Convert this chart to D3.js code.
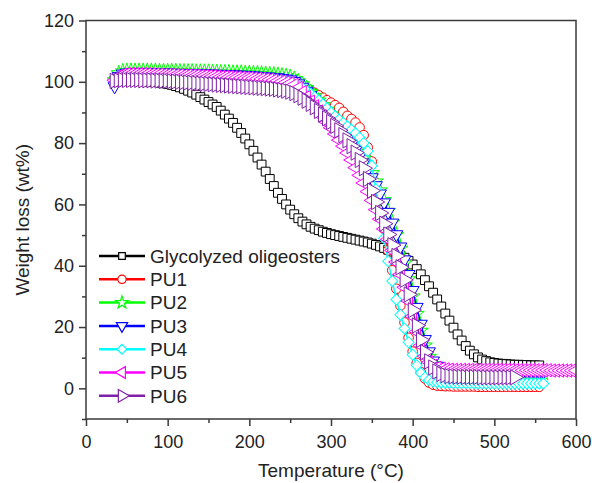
<!DOCTYPE html>
<html><head><meta charset="utf-8">
<script src="https://cdn.jsdelivr.net/npm/d3@7"></script>
<style>body{margin:0;background:#fff;} svg{display:block;}</style>
</head><body>
<svg id="c" width="592" height="483"></svg>
<script>
// Temperature grid (°C)
const temps = [35,40,45,50,55,60,65,70,75,80,85,90,95,100,105,110,115,120,125,130,135,140,145,150,155,160,165,170,175,180,185,190,195,200,205,210,215,220,225,230,235,240,245,250,255,260,265,270,275,280,285,290,295,300,305,310,315,320,325,330,335,340,345,350,355,360,365,370,375,380,385,390,395,400,405,410,415,420,425,430,435,440,445,450,455,460,465,470,475,480,485,490,495,500,505,510,515,520,525,530,535,540,545,550,555,560,565,570,575,580,585,590,595,600];

// Weight (wt%) per series, aligned with temps
const glycolyzed = [100.5,100.5,100.5,100.4,100.4,100.3,100.3,100.2,100.1,100.0,99.9,99.7,99.5,99.3,
 99.0,98.6,98.2,97.7,97.1,96.5,95.8,95.0,94.2,93.4,92.6,91.8,90.6,89.3,88.0,86.6,85.0,83.3,81.5,79.6,
 77.5,75.3,73.0,70.7,68.3,66.0,63.8,61.8,60.0,58.3,56.8,55.5,54.4,53.5,52.7,52.1,51.6,51.1,50.7,50.3,
 50.0,49.7,49.4,49.1,48.8,48.5,48.2,47.9,47.6,47.2,46.8,46.3,45.8,45.2,44.6,44.0,43.3,42.6,41.6,40.4,
 38.9,37.2,35.3,33.3,31.2,29.0,26.7,24.4,22.1,19.8,17.6,15.6,13.8,12.3,11.1,10.1,9.4,8.9,8.5,8.3,
 8.1,8.0,7.9,7.8,7.7,7.7,7.6,7.6,7.5,7.5,7.5];
const pu1 = [100.0,101.3,101.8,102.0,102.0,102.0,102.0,102.0,101.9,101.9,101.9,101.8,101.8,101.8,
 101.7,101.7,101.6,101.6,101.5,101.5,101.4,101.4,101.3,101.3,101.2,101.2,101.1,101.1,101.0,101.0,100.9,100.9,100.8,100.8,
 100.7,100.6,100.5,100.4,100.3,100.2,100.1,100.0,99.8,99.6,99.3,98.9,98.4,97.8,97.1,96.4,95.6,94.8,94.0,93.2,
 92.4,91.5,90.2,88.9,87.9,86.7,85.1,82.6,78.6,74.0,67.0,59.5,52.0,45.0,38.5,32.5,27.0,21.5,16.5,12.0,
 8.3,5.3,3.2,1.9,1.2,0.9,0.8,0.7,0.7,0.6,0.6,0.6,0.6,0.6,0.6,0.5,0.5,0.5,0.5,0.5,
 0.5,0.5,0.5,0.5,0.5,0.5,0.5,0.5,0.5,0.5,0.5];
const pu2 = [100.5,102.8,103.4,103.6,103.6,103.6,103.6,103.6,103.6,103.6,103.6,103.5,103.5,103.5,
 103.5,103.5,103.4,103.4,103.4,103.4,103.3,103.3,103.3,103.3,103.2,103.2,103.1,103.1,103.1,103.0,103.0,103.0,102.9,102.9,
 102.8,102.8,102.7,102.6,102.5,102.4,102.3,102.1,101.9,101.6,101.0,100.2,99.2,98.0,96.7,95.3,93.9,92.4,90.9,89.4,
 87.8,86.2,84.5,82.8,81.0,79.1,77.1,75.0,72.7,70.2,67.5,64.6,61.4,57.9,54.1,50.0,45.6,40.8,35.6,30.0,
 24.3,18.8,14.0,10.3,7.9,6.5,5.8,5.4,5.2,5.1,5.0,5.0,5.0,5.0,5.0,5.0,5.0,5.0,4.9,4.9,
 4.9,4.9,4.9,4.9,4.9,4.9,4.9,4.9,4.9,4.9,4.9,4.9];
const pu3 = [98.5,101.8,102.6,102.9,103.0,103.0,103.0,103.0,103.0,103.0,102.9,102.9,102.9,102.9,
 102.9,102.8,102.8,102.8,102.8,102.7,102.7,102.7,102.6,102.6,102.6,102.5,102.5,102.4,102.4,102.3,102.3,102.2,102.2,102.1,
 102.0,101.9,101.8,101.7,101.6,101.5,101.4,101.2,101.0,100.7,100.2,99.4,98.3,97.0,95.6,94.2,92.8,91.3,89.8,88.2,
 86.6,85.0,83.3,81.5,79.6,77.7,75.7,73.6,71.3,68.8,66.2,63.5,60.6,57.5,54.0,50.2,46.2,42.0,37.2,32.0,
 26.5,21.0,16.0,12.0,9.0,7.3,6.4,5.9,5.6,5.5,5.4,5.4,5.4,5.4,5.4,5.4,5.4,5.4,5.4,5.4,
 5.4,5.4,5.4,5.4,5.4,5.4,5.4,5.4,5.4,5.4,5.4,5.4];
const pu4 = [100.0,101.5,102.0,102.2,102.3,102.3,102.3,102.3,102.3,102.2,102.2,102.2,102.2,102.1,
 102.1,102.1,102.0,102.0,102.0,101.9,101.9,101.8,101.8,101.7,101.7,101.6,101.6,101.5,101.5,101.4,101.4,101.3,101.3,101.2,
 101.1,101.0,100.9,100.8,100.7,100.6,100.5,100.3,100.1,99.8,99.4,98.8,98.0,97.1,96.1,95.0,93.9,92.7,91.4,90.0,
 88.8,87.7,86.6,85.5,84.4,83.2,81.8,80.0,77.4,72.6,65.0,57.0,49.0,41.5,35.0,29.0,24.0,19.5,15.0,11.0,
 7.5,5.0,3.5,2.7,2.2,2.0,1.9,1.8,1.8,1.7,1.7,1.7,1.7,1.7,1.7,1.6,1.6,1.6,1.6,1.6,
 1.6,1.6,1.6,1.6,1.6,1.6,1.6,1.6,1.6,1.6,1.6,1.6];
const pu5 = [100.5,101.8,102.3,102.5,102.5,102.5,102.5,102.5,102.5,102.4,102.4,102.4,102.3,102.3,
 102.3,102.2,102.2,102.1,102.1,102.0,102.0,101.9,101.9,101.8,101.8,101.7,101.6,101.6,101.5,101.4,101.4,101.3,101.2,101.2,
 101.1,101.0,100.9,100.8,100.7,100.5,100.3,100.1,99.8,99.5,99.0,98.0,96.6,95.0,93.5,92.0,90.3,88.6,86.8,85.0,
 83.0,81.0,79.0,76.8,74.5,72.0,69.5,67.0,64.2,61.3,58.3,55.2,52.0,48.6,45.0,41.2,37.2,33.0,28.5,23.5,
 18.5,14.0,10.5,8.5,7.3,6.7,6.4,6.2,6.1,6.0,6.0,6.0,6.0,6.0,6.0,6.0,6.0,6.0,6.0,6.0,
 6.0,6.0,6.0,6.0,5.9,5.9,5.9,5.9,5.9,5.9,5.9,5.9,5.9,5.8,5.8,5.8,5.8,5.8,5.8,5.8];
const pu6 = [100.3,100.5,100.6,100.6,100.6,100.6,100.6,100.5,100.5,100.5,100.4,100.4,100.3,100.3,
 100.2,100.1,100.0,99.9,99.8,99.7,99.6,99.5,99.4,99.3,99.2,99.1,99.0,98.9,98.8,98.7,98.6,98.5,98.4,98.3,
 98.2,98.1,98.0,97.9,97.8,97.7,97.5,97.3,97.1,96.8,96.3,95.6,94.8,93.8,92.8,91.7,90.5,89.3,88.1,86.9,
 85.6,84.2,82.6,80.9,79.0,76.9,74.5,71.8,68.3,64.5,60.8,57.2,53.7,50.2,46.7,43.2,39.5,35.4,30.6,25.5,
 20.5,15.8,11.8,8.8,6.8,5.5,4.7,4.3,4.0,3.9,3.8,3.8,3.7,3.7,3.7,3.7,3.6,3.6,3.6,3.6,
 3.6,3.6,3.6,3.6,3.6];

const seriesNames = ["Glycolyzed oligeosters","PU1","PU2","PU3","PU4","PU5","PU6"];
const xTicks = [0,100,200,300,400,500,600];
const yTicks = [0,20,40,60,80,100,120];
const xMinor = [50,150,250,350,450,550];
const yMinor = [-10,10,30,50,70,90,110];

// ---- drawing ----
const seriesValues = [glycolyzed, pu1, pu2, pu3, pu4, pu5, pu6];
const styles = [
  {color:"#000000", sym:d3.symbolSquare,   size:78,  rot:0,   lsize:44},
  {color:"#ff0000", sym:d3.symbolCircle,   size:72,  rot:0,   lsize:55},
  {color:"#00ff00", sym:d3.symbolStar,     size:70,  rot:0,   lsize:50},
  {color:"#0000ff", sym:d3.symbolTriangle, size:72,  rot:180, lsize:55},
  {color:"#00ffff", sym:d3.symbolSquare,   size:60,  rot:45,  lsize:48},
  {color:"#ff00ff", sym:d3.symbolTriangle, size:78,  rot:-90, lsize:60},
  {color:"#8020a8", sym:d3.symbolTriangle, size:100, rot:90,  lsize:70}
];

const svg = d3.select("#c");
const M = {l:86, r:576, t:20.5, b:419};
const x = d3.scaleLinear().domain([0,600]).range([M.l, M.r]);
const y = d3.scaleLinear().domain([-10,120]).range([M.b, M.t]);
const FONT = "'Liberation Sans', Arial, sans-serif";
const axisColor = "#3a3a3a";

svg.append("defs").append("clipPath").attr("id","clip")
  .append("rect").attr("x",M.l).attr("y",M.t).attr("width",M.r-M.l).attr("height",M.b-M.t);

const plot = svg.append("g").attr("clip-path","url(#clip)");
const line = d3.line().x(d=>x(d[0])).y(d=>y(d[1]));

seriesValues.forEach((vals, si) => {
  const st = styles[si];
  const pts = vals.map((v,i)=>[temps[i], v]);
  const g = plot.append("g");
  g.append("path").datum(pts).attr("d", line)
    .attr("fill","none").attr("stroke", st.color).attr("stroke-width",1.5);
  const sym = d3.symbol().type(st.sym).size(st.size);
  g.selectAll("path.m").data(pts).join("path").attr("class","m")
    .attr("d", sym)
    .attr("transform", d=>`translate(${x(d[0])},${y(d[1])}) rotate(${st.rot})`)
    .attr("fill","#fff").attr("stroke", st.color).attr("stroke-width",1);
});

// frame
svg.append("rect").attr("x",M.l).attr("y",M.t).attr("width",M.r-M.l).attr("height",M.b-M.t)
  .attr("fill","none").attr("stroke",axisColor).attr("stroke-width",1.5);

function styleAxis(g){
  g.select(".domain").remove();
  g.selectAll("line").attr("stroke",axisColor).attr("stroke-width",1.5);
  g.selectAll("text").attr("fill","#222").style("font-family",FONT).style("font-size","18px");
}
svg.append("g").attr("transform",`translate(0,${M.b})`)
  .call(d3.axisBottom(x).tickValues(xTicks).tickSize(7).tickPadding(9).tickFormat(d3.format("d")))
  .call(styleAxis);
svg.append("g").attr("transform",`translate(0,${M.b})`)
  .call(d3.axisBottom(x).tickValues(xMinor).tickSize(4).tickFormat(""))
  .call(styleAxis);
svg.append("g").attr("transform",`translate(${M.l},0)`)
  .call(d3.axisLeft(y).tickValues(yTicks).tickSize(7).tickPadding(5).tickFormat(d3.format("d")))
  .call(styleAxis);
svg.append("g").attr("transform",`translate(${M.l},0)`)
  .call(d3.axisLeft(y).tickValues(yMinor).tickSize(4).tickFormat(""))
  .call(styleAxis);

// axis titles
svg.append("text").attr("x",(M.l+M.r)/2).attr("y",477).attr("text-anchor","middle")
  .style("font-family",FONT).style("font-size","19px").attr("fill","#222")
  .text("Temperature (°C)");
svg.append("text").attr("transform",`translate(29,${(M.t+M.b)/2}) rotate(-90)`).attr("text-anchor","middle")
  .style("font-family",FONT).style("font-size","19px").attr("fill","#222")
  .text("Weight loss (wt%)");

// legend
const leg = svg.append("g");
seriesNames.forEach((name, i) => {
  const st = styles[i];
  const yy = 256 + i*23.3;
  leg.append("line").attr("x1",99).attr("x2",145).attr("y1",yy).attr("y2",yy)
    .attr("stroke",st.color).attr("stroke-width",2.5);
  leg.append("path").attr("d", d3.symbol().type(st.sym).size(st.lsize)())
    .attr("transform",`translate(122,${yy}) rotate(${st.rot})`)
    .attr("fill","#fff").attr("stroke",st.color).attr("stroke-width",1.2);
  leg.append("text").attr("x",150).attr("y",yy+6.8)
    .style("font-family",FONT).style("font-size","19px").attr("fill","#222").text(name);
});
</script>
</body></html>
